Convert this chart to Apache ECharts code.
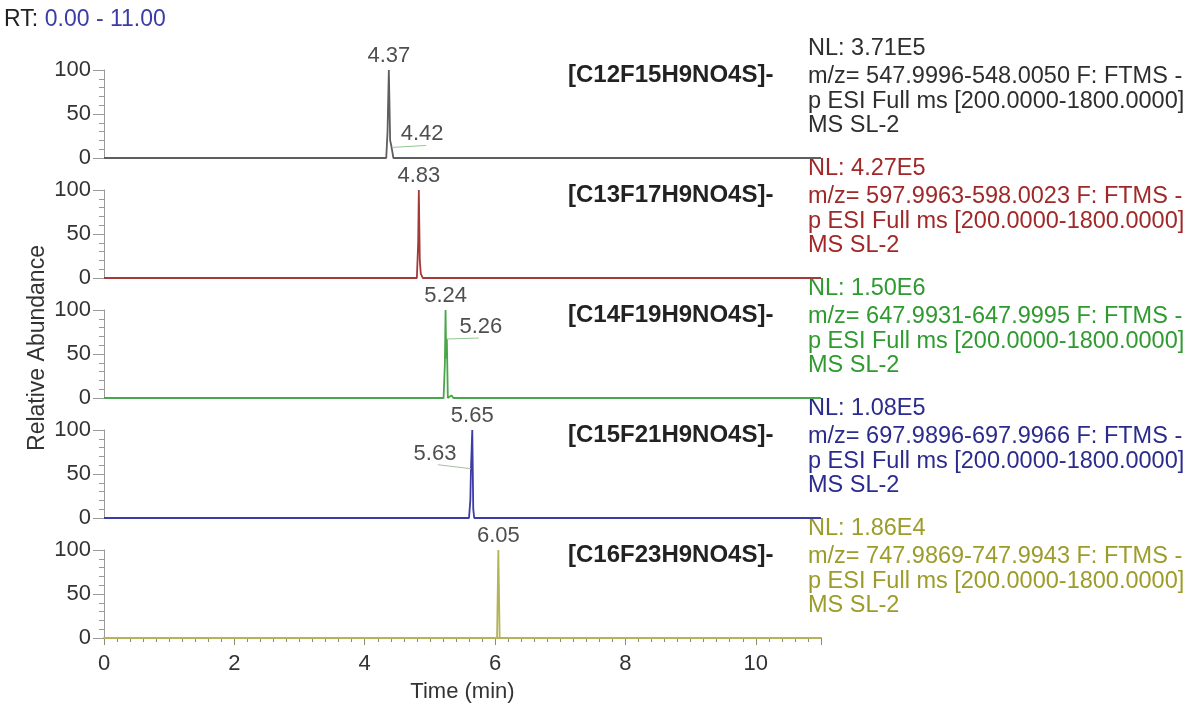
<!DOCTYPE html>
<html>
<head>
<meta charset="utf-8">
<title>Chromatograms</title>
<script src="https://cdn.jsdelivr.net/npm/echarts@6/dist/echarts.min.js"></script>
<style>
  html, body { margin: 0; padding: 0; background: #ffffff; }
  #chart { width: 1202px; height: 706px; }
</style>
</head>
<body>
<div id="chart"></div>
<script>
// Retention-time window (min)
const rtRange = [0, 11];
const timeTicks = [0, 2, 4, 6, 8, 10];

// Extracted-ion traces, one per homologue
const compounds = ['[C12F15H9NO4S]-', '[C13F17H9NO4S]-', '[C14F19H9NO4S]-', '[C15F21H9NO4S]-', '[C16F23H9NO4S]-'];
const nlValues = ['3.71E5', '4.27E5', '1.50E6', '1.08E5', '1.86E4'];
const mzRanges = ['547.9996-548.0050', '597.9963-598.0023', '647.9931-647.9995', '697.9896-697.9966', '747.9869-747.9943'];
const scanFilterLines = ['F: FTMS -', 'p ESI Full ms [200.0000-1800.0000]', 'MS SL-2'];

// Time (min) and relative abundance (%) for each trace
const c12Time  = [0, 4.33, 4.35, 4.37, 4.39, 4.41, 4.42, 4.44, 11];
const c12Abund = [0, 0, 30, 100, 20, 13, 12, 0, 0];
const c13Time  = [0, 4.80, 4.82, 4.83, 4.845, 4.86, 4.89, 11];
const c13Abund = [0, 0, 40, 100, 20, 5, 0, 0];
const c14Time  = [0, 5.21, 5.23, 5.24, 5.25, 5.26, 5.275, 5.30, 5.33, 5.36, 11];
const c14Abund = [0, 0, 40, 100, 45, 67, 0, 0, 3, 0, 0];
const c15Time  = [0, 5.60, 5.62, 5.63, 5.65, 5.665, 5.68, 11];
const c15Abund = [0, 0, 20, 56, 100, 10, 0, 0];
const c16Time  = [0, 6.03, 6.05, 6.07, 11];
const c16Abund = [0, 0, 100, 0, 0];

// Labelled retention times: apex and secondary peak of each trace
const apexRT = [4.37, 4.83, 5.24, 5.65, 6.05];
const sideRT = [4.42, null, 5.26, 5.63, null];

const traceTimes = [c12Time, c13Time, c14Time, c15Time, c16Time];
const traceAbunds = [c12Abund, c13Abund, c14Abund, c15Abund, c16Abund];

const lineColors = ['#5e5e5e', '#a33a3a', '#4aa64a', '#3c3ca6', '#b3b35a'];
const textColors = ['#2e2e2e', '#a02828', '#2f9a2f', '#2b2b8e', '#9c9c2a'];

const FONT = '"Liberation Sans", Arial, sans-serif';
const FS = 22;
const FS_TEXT = 23.5;

// Panel geometry
const panelLeft = 104, panelWidth = 717, panelHeight = 88;
const zeroLines = [158, 278, 398, 518, 638];

function abundAt(i, t) {
  const ts = traceTimes[i];
  const k = ts.findIndex(v => Math.abs(v - t) < 1e-9);
  return traceAbunds[i][k];
}

// Secondary label placement (label offset, leader end offset, leader colour), in px from the point
const sideStyle = [
  { label: [30, -14], leader: [34, -2], color: '#93c893' },
  null,
  { label: [34, -12], leader: [32, -1], color: '#93c893' },
  { label: [-36, -15], leader: [-33, -4], color: '#a9bea9' },
  null
];

const grids = [], xAxes = [], yAxes = [], series = [], graphics = [];

for (let i = 0; i < 5; i++) {
  const last = i === 4;
  grids.push({ left: panelLeft, width: panelWidth, top: zeroLines[i] - panelHeight, height: panelHeight });
  xAxes.push({
    gridIndex: i, type: 'value', min: rtRange[0], max: rtRange[1], interval: timeTicks[1] - timeTicks[0],
    show: last,
    axisLine: { show: true, onZero: false, lineStyle: { color: lineColors[4], width: 2 } },
    axisTick: { show: true, length: 7, lineStyle: { color: '#8d8d6a', width: 1 } },
    minorTick: { show: true, splitNumber: 10, length: 4, lineStyle: { color: '#8d8d6a', width: 1 } },
    splitLine: { show: false },
    axisLabel: {
      showMaxLabel: false, margin: 15, fontSize: FS, color: '#333', fontFamily: FONT,
      formatter: v => timeTicks.includes(v) ? String(v) : ''
    },
    name: last ? 'Time (min)' : '', nameLocation: 'middle', nameGap: 43,
    nameTextStyle: { fontSize: FS, color: '#333', fontFamily: FONT }
  });
  yAxes.push({
    gridIndex: i, type: 'value', min: 0, max: 100, interval: 50,
    axisLine: { show: true, lineStyle: { color: '#9a9a9a', width: 1 } },
    axisTick: { show: true, length: 11, lineStyle: { color: '#9a9a9a', width: 1 } },
    minorTick: { show: true, splitNumber: 5, length: 5, lineStyle: { color: '#9a9a9a', width: 1 } },
    splitLine: { show: false },
    axisLabel: { margin: 13, fontSize: FS, color: '#333', fontFamily: FONT }
  });

  const pts = traceTimes[i].map((t, k) => [t, traceAbunds[i][k]]);
  series.push({
    type: 'line', xAxisIndex: i, yAxisIndex: i, data: pts,
    symbol: 'none', silent: true, z: 3,
    lineStyle: { color: lineColors[i], width: 1.8 }
  });

  // Apex retention time label
  series.push({
    type: 'scatter', xAxisIndex: i, yAxisIndex: i, silent: true, z: 4,
    symbol: 'circle', symbolSize: 1, itemStyle: { color: 'rgba(0,0,0,0)' },
    data: [[apexRT[i], abundAt(i, apexRT[i])]],
    label: {
      show: true, position: 'top', distance: 3,
      formatter: p => p.value[0].toFixed(2),
      fontSize: FS, color: '#222', fontFamily: FONT
    }
  });

  // Secondary retention time label
  if (sideRT[i] !== null) {
    const st = sideStyle[i];
    series.push({
      type: 'scatter', xAxisIndex: i, yAxisIndex: i, silent: true, z: 4,
      symbol: 'circle', symbolSize: 1, itemStyle: { color: 'rgba(0,0,0,0)' },
      data: [[sideRT[i], abundAt(i, sideRT[i])]],
      label: {
        show: true, position: 'inside',
        formatter: p => p.value[0].toFixed(2),
        fontSize: FS, color: '#222', fontFamily: FONT
      },
      labelLayout: { dx: st.label[0], dy: st.label[1] }
    });
  }

  // Compound name and scan description
  const cy = zeroLines[i] - 82;
  graphics.push({
    type: 'text', left: 568, top: cy - 13,
    style: { text: compounds[i], font: 'bold 24px ' + FONT, fill: '#222' }
  });
  const ty = zeroLines[i] - 111;
  const lines = ['NL: ' + nlValues[i], 'm/z= ' + mzRanges[i] + ' ' + scanFilterLines[0], scanFilterLines[1], scanFilterLines[2]];
  const dy = [0, 28, 53, 77];
  lines.forEach((s, k) => {
    graphics.push({
      type: 'text', left: 808, top: ty + dy[k] - 10,
      style: { text: s, font: FS_TEXT + 'px ' + FONT, fill: textColors[i] }
    });
  });
}

// Retention-time range header
graphics.push({
  type: 'text', left: 4, top: 8,
  style: {
    text: '{a|RT:}  {b|' + rtRange[0].toFixed(2) + ' - ' + rtRange[1].toFixed(2) + '}',
    rich: {
      a: { font: '23px ' + FONT, fill: '#222' },
      b: { font: '23px ' + FONT, fill: '#3c3ca6' }
    }
  }
});

// Shared y-axis title
graphics.push({
  type: 'text', x: 38, y: 348, rotation: Math.PI / 2,
  style: { text: 'Relative Abundance', font: '23px ' + FONT, fill: '#333', align: 'center', verticalAlign: 'middle' }
});

const chart = echarts.init(document.getElementById('chart'), null, { renderer: 'canvas' });
const option = {
  animation: false,
  backgroundColor: '#ffffff',
  grid: grids,
  xAxis: xAxes,
  yAxis: yAxes,
  series: series,
  graphic: graphics
};
chart.setOption(option);

// Leader lines from secondary peaks, placed through each panel's scales
const leaders = [];
for (let i = 0; i < 5; i++) {
  if (sideRT[i] === null) continue;
  const st = sideStyle[i];
  const p = chart.convertToPixel({ xAxisIndex: i, yAxisIndex: i }, [sideRT[i], abundAt(i, sideRT[i])]);
  leaders.push({
    type: 'polyline', silent: true, z: 5,
    shape: { points: [p, [p[0] + st.leader[0], p[1] + st.leader[1]]] },
    style: { stroke: st.color, lineWidth: 1, fill: null }
  });
}
chart.setOption({ graphic: graphics.concat(leaders) });
</script>
</body>
</html>
